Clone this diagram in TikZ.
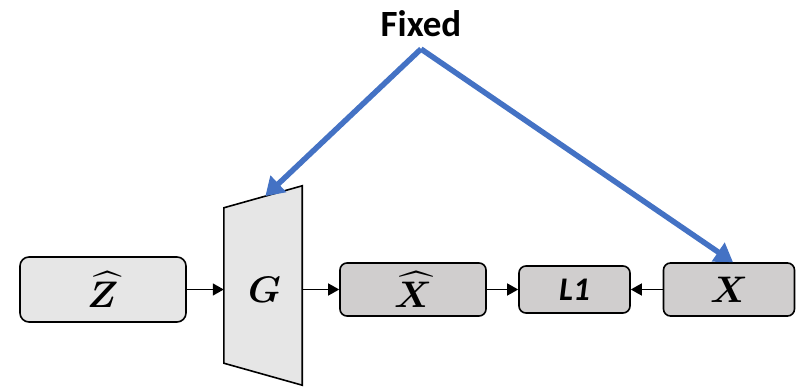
\documentclass[tikz,border=0pt]{standalone}
\usepackage{amsmath}
\usepackage{fontspec}
\usepackage{unicode-math}
\setmainfont{Carlito}
\setmathfont{Latin Modern Math}
\usetikzlibrary{arrows.meta,calc}
\definecolor{fixblue}{HTML}{4472C4}
\definecolor{lightbox}{HTML}{E6E6E6}
\definecolor{darkbox}{HTML}{D0CECE}
\tikzset{
  blockbox/.style={draw=black, line width=1.6pt, rounded corners=7pt, fill=darkbox, inner sep=0pt},
  flow/.style={line width=1.4pt, -{Triangle[length=11pt,width=12pt]}},
  fixarrow/.style={draw=fixblue, line width=5.5pt, -{Triangle[length=18pt,width=22pt]}},
  bigsym/.style={font=\fontsize{37}{40}\selectfont}
}
\begin{document}
\begin{tikzpicture}[x=1pt,y=-1pt]
    \useasboundingbox (0,0) rectangle (796,387);
    % generator, drawn as a trapezoid round an empty node
    \node [minimum width=78pt, minimum height=199pt, inner sep=0pt] (G) at (263,285.5) {};
    \coordinate (gtl) at ($(G.north west)+(0,22)$);
    \coordinate (gbl) at ($(G.south west)+(0,-22)$);
    \draw [line width=1.6pt, fill=lightbox, line join=miter] (gtl) -- (G.north east) -- (G.south east) -- (gbl) -- cycle;
    \node [bigsym] at (265,289.5) {$\symbfit{G}$};
    \coordinate (gtop) at ($(gtl)!0.53!(G.north east)$);
    % boxes
    \node [blockbox, fill=lightbox, rounded corners=9pt, minimum width=166pt, minimum height=65pt, bigsym] (zhat) at (103,289.5) {$\widehat{\symbfit{Z}}$};
    \node [blockbox, minimum width=146pt, minimum height=53pt, bigsym] (xhat) at (413,289.5) {$\widehat{\symbfit{X}}$};
    \node [blockbox, minimum width=111pt, minimum height=47pt, font=\fontsize{33}{36}\selectfont\bfseries\itshape] (lone) at (574.5,289.5) {L1};
    \node [blockbox, minimum width=131pt, minimum height=53pt, bigsym] (x) at (729,289.5) {$\symbfit{X}$};
    % flow
    \draw [flow] (zhat.east) -- (zhat.east -| G.west);
    \draw [flow] (xhat.west -| G.east) -- (xhat.west);
    \draw [flow] (xhat.east) -- (lone.west);
    \draw [flow] (x.west) -- (lone.east);
    % fixed weights
    \node [font=\fontsize{37}{40}\selectfont\bfseries] (fixlabel) at (421,24) {Fixed};
    \coordinate (fix) at (421,49);
    \draw [fixarrow] (fix) -- (gtop);
    \draw [fixarrow] (fix) -- ($(x.north)+(4,0)$);
\end{tikzpicture}
\end{document}
